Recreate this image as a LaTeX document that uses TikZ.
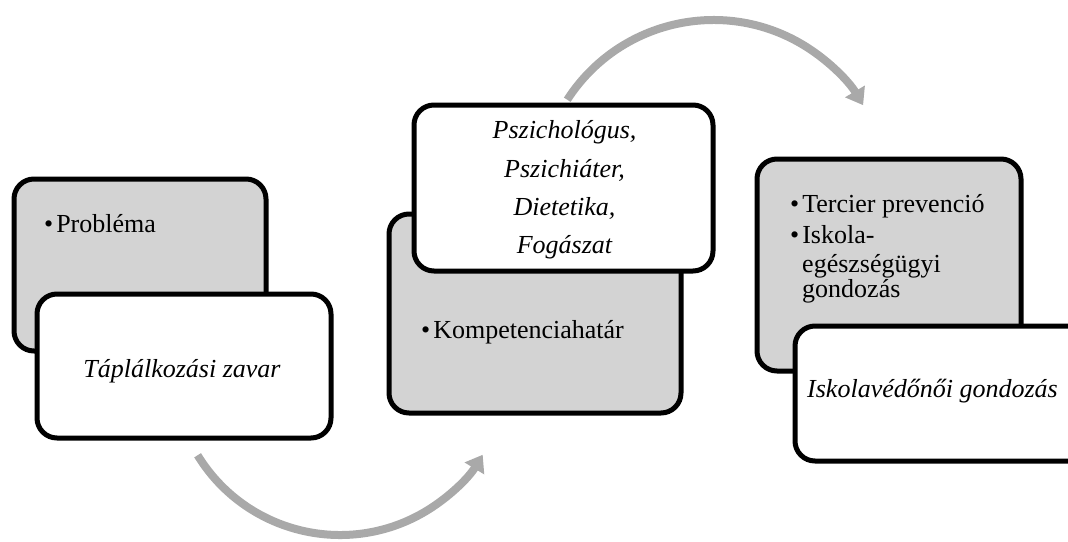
\documentclass[tikz,border=0pt]{standalone}
\usepackage{fontspec}
\setmainfont{Liberation Serif}
\usetikzlibrary{arrows.meta,calc}
\definecolor{boxgray}{HTML}{D3D3D3}
\definecolor{arrgray}{HTML}{A9A9A9}
\begin{document}
\begin{tikzpicture}[x=1pt,y=1pt,
  box/.style={draw=black, line width=5pt, rounded corners=20pt, inner sep=0pt},
  graybox/.style={box, fill=boxgray},
  whitebox/.style={box, fill=white},
  txt/.style={font=\fontsize{26}{27}\selectfont, inner sep=0pt},
  itxt/.style={txt, font=\fontsize{26}{27}\selectfont\itshape},
  arr/.style={draw=arrgray, line width=8pt, -{Triangle[width=22pt,length=16pt]}}]
\clip (0,0) rectangle (1068,-541);
\useasboundingbox (0,0) rectangle (1068,-541);
% arrows
\coordinate (a1s) at ($(340,-368)+(211.5:167)$);
\draw[arr] (a1s) arc[start angle=211.5, end angle=328.7, radius=167];
\coordinate (a2s) at ($(713.5,-194)+(147.2:174)$);
\draw[arr] (a2s) arc[start angle=147.2, end angle=30.7, radius=174];
% boxes
\node[graybox, minimum width=252pt, minimum height=172pt] (g1) at (140,-265) {};
\node[whitebox, minimum width=294pt, minimum height=144pt] (w1) at (184,-366) {};
\node[graybox, minimum width=292pt, minimum height=199pt] (g2) at (535,-313.5) {};
\node[whitebox, minimum width=299pt, minimum height=166pt] (w2) at (563.5,-188) {};
\node[graybox, minimum width=264pt, minimum height=212pt] (g3) at (889,-265) {};
\node[whitebox, minimum width=295pt, minimum height=135pt] (w3) at (942.5,-393.5) {};
% texts
\node[txt, anchor=base west] (t1) at (44,-232) {•\hspace{3pt}Probléma};
\node[itxt, anchor=base] (t2) at (182,-377) {Táplálkozási zavar};
\node[itxt, anchor=base] (t3a) at (564.5,-138) {Pszichológus,};
\node[itxt, anchor=base] (t3b) at (564.5,-177) {Pszichiáter,};
\node[itxt, anchor=base] (t3c) at (564.5,-215) {Dietetika,};
\node[itxt, anchor=base] (t3d) at (564.5,-253) {Fogászat};
\node[txt, anchor=base west] (t4) at (421,-338) {•\hspace{3pt}Kompetenciahatár};
\node[txt, anchor=base west] (t5a) at (790,-212) {•\hspace{3pt}Tercier prevenció};
\node[txt, anchor=base west] (t5b) at (790,-243) {•\hspace{3pt}Iskola-};
\node[txt, anchor=base west] (t5c) at (802,-272) {egészségügyi};
\node[txt, anchor=base west] (t5d) at (802,-297) {gondozás};
\node[itxt, anchor=base] (t6) at (932.5,-397) {Iskolavédőnői gondozás};
\end{tikzpicture}
\end{document}
